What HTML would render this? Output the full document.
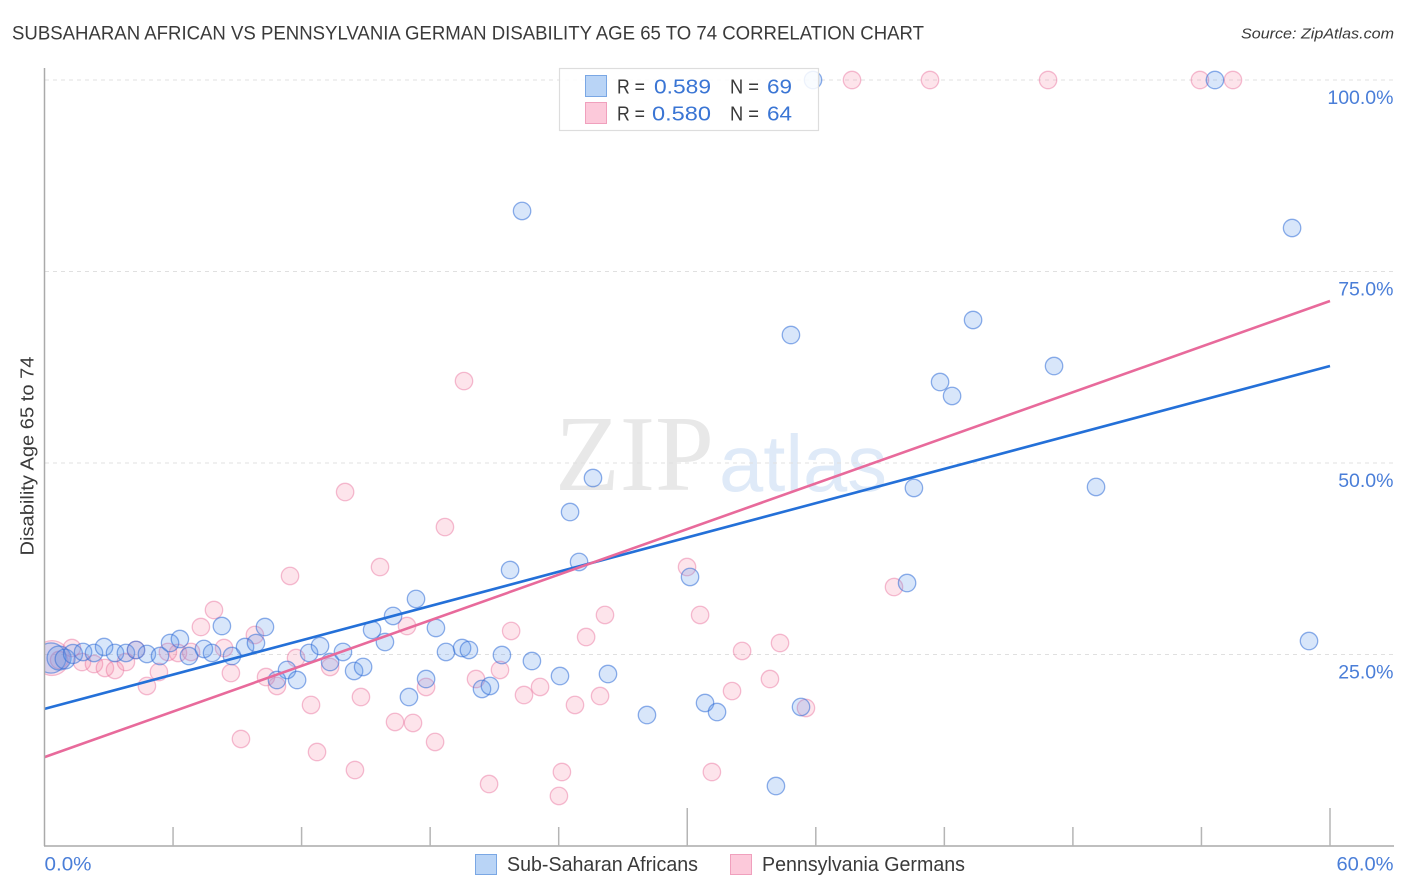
<!DOCTYPE html>
<html>
<head>
<meta charset="utf-8">
<style>
html,body{margin:0;padding:0;background:#fff;width:1406px;height:892px;overflow:hidden}
svg{display:block;font-family:"Liberation Sans",sans-serif}
</style>
</head>
<body>
<svg id="chart" width="1406" height="892" viewBox="0 0 1406 892" xmlns="http://www.w3.org/2000/svg">
  <defs><clipPath id="plot-clip"><rect x="45" y="60" width="1349" height="786"/></clipPath></defs>
  <text x="12" y="39.5" font-size="19" fill="#3a3a3a" textLength="912" lengthAdjust="spacingAndGlyphs">SUBSAHARAN AFRICAN VS PENNSYLVANIA GERMAN DISABILITY AGE 65 TO 74 CORRELATION CHART</text>
  <text x="1394" y="38.5" font-size="15" font-style="italic" fill="#3a3a3a" text-anchor="end" textLength="153" lengthAdjust="spacingAndGlyphs">Source: ZipAtlas.com</text>
  <g>
    <text x="555" y="490" font-family="'Liberation Serif',serif" font-size="108" fill="#e8e8e8" textLength="159" lengthAdjust="spacingAndGlyphs">ZIP</text>
    <text x="719" y="491" font-size="80" fill="#dfeaf8" textLength="168" lengthAdjust="spacingAndGlyphs">atlas</text>
  </g>
  <g id="grid"></g>
  <g id="pts-pink" clip-path="url(#plot-clip)"></g>
  <g id="pts-blue" clip-path="url(#plot-clip)"></g>
  <g id="trends"></g>
  <g id="axes">
    <line x1="44.5" y1="68" x2="44.5" y2="846" stroke="#aaa" stroke-width="1.5"/>
    <line x1="44" y1="846" x2="1394" y2="846" stroke="#aaa" stroke-width="1.5"/>
  </g>
  <g id="labels"></g>
  <text transform="translate(33.5,456) rotate(-90)" font-size="18.5" fill="#3a3a3a" text-anchor="middle" textLength="199" lengthAdjust="spacingAndGlyphs">Disability Age 65 to 74</text>

  <g>
    <rect x="559.5" y="68.5" width="259" height="62" fill="#fff" fill-opacity="0.85" stroke="#ddd" stroke-width="1.2"/>
    <rect x="585.5" y="75.5" width="21" height="21" fill="#b9d4f6" stroke="#7aa7e4" stroke-width="1"/>
    <rect x="585.5" y="102.5" width="21" height="21" fill="#fcc9da" stroke="#f0a0bd" stroke-width="1"/>
    <g font-size="20.5">
      <text x="617" y="93.5" fill="#3a3a3a" textLength="28" lengthAdjust="spacingAndGlyphs">R =</text>
      <text x="654" y="93.5" fill="#3a75d4" textLength="57" lengthAdjust="spacingAndGlyphs">0.589</text>
      <text x="730" y="93.5" fill="#3a3a3a" textLength="29" lengthAdjust="spacingAndGlyphs">N =</text>
      <text x="767" y="93.5" fill="#3a75d4" textLength="25" lengthAdjust="spacingAndGlyphs">69</text>
      <text x="617" y="120.5" fill="#3a3a3a" textLength="28" lengthAdjust="spacingAndGlyphs">R =</text>
      <text x="652" y="120.5" fill="#3a75d4" textLength="59" lengthAdjust="spacingAndGlyphs">0.580</text>
      <text x="730" y="120.5" fill="#3a3a3a" textLength="29" lengthAdjust="spacingAndGlyphs">N =</text>
      <text x="767" y="120.5" fill="#3a75d4" textLength="25" lengthAdjust="spacingAndGlyphs">64</text>
    </g>
  </g>

  <g>
    <rect x="475.5" y="854.5" width="21" height="20" fill="#b9d4f6" stroke="#7aa7e4" stroke-width="1"/>
    <text x="507" y="871" font-size="20" fill="#3a3a3a" textLength="191" lengthAdjust="spacingAndGlyphs">Sub-Saharan Africans</text>
    <rect x="730.5" y="854.5" width="21" height="20" fill="#fcc9da" stroke="#f0a0bd" stroke-width="1"/>
    <text x="762" y="871" font-size="20" fill="#3a3a3a" textLength="203" lengthAdjust="spacingAndGlyphs">Pennsylvania Germans</text>
  </g>
</svg>
<script>
var blueX=[0.30,0.68,0.96,1.33,1.80,2.31,2.78,3.29,3.80,4.27,4.78,5.39,5.86,6.32,6.74,7.44,7.82,8.28,8.75,9.36,9.87,10.29,11.32,10.85,11.79,12.35,12.86,13.33,13.93,14.45,14.87,15.29,15.89,16.27,17.34,17.01,17.81,18.27,18.74,19.49,19.81,20.42,20.79,21.35,22.75,24.06,26.30,21.73,24.53,24.95,25.60,22.29,28.12,30.83,31.39,35.31,34.14,30.13,34.84,35.87,40.58,40.26,41.80,42.36,43.34,47.12,49.08,54.63,58.23,59.02];
var blueY=[24.54,24.54,24.41,25.07,25.33,25.20,25.98,25.20,25.20,25.59,25.07,24.80,26.50,27.02,24.80,25.72,25.20,28.72,24.80,25.98,26.50,28.59,22.98,21.67,21.67,25.20,26.11,24.02,25.33,22.85,23.37,28.20,26.63,30.03,32.25,19.45,21.80,28.46,25.33,25.85,25.59,20.50,20.89,24.93,24.15,22.19,22.45,36.03,43.60,37.08,48.04,82.90,17.10,18.67,17.49,18.15,7.83,35.12,66.71,100,46.74,34.33,60.57,58.75,68.67,62.66,46.87,100,80.68,26.76];
var blueWeight=[3,1.9,1.3,1.2,1,1,1,1,1,1,1,1,1,1,1,1,1,1,1,1,1,1,1,1,1,1,1,1,1,1,1,1,1,1,1,1,1,1,1,1,1,1,1,1,1,1,1,1,1,1,1,1,1,1,1,1,1,1,1,1,1,1,1,1,1,1,1,1,1,1];
var pinkX=[0.35,0.68,1.28,1.75,2.31,2.82,3.29,3.80,4.27,4.78,5.34,5.76,6.23,6.84,7.30,7.91,8.38,8.70,9.17,9.82,10.34,10.85,11.74,12.44,12.72,13.33,14.77,14.49,11.46,15.66,16.36,16.92,17.20,17.81,18.23,21.78,21.26,20.14,22.38,23.13,24.76,25.93,25.28,26.16,30.60,32.09,32.56,33.86,34.33,35.54,20.75,24.15,24.01,31.15,19.58,14.03,18.69,29.99,39.65,37.69,41.33,46.84,53.93,55.47];
var pinkY=[24.54,24.28,25.85,24.02,23.76,23.24,22.98,24.02,25.59,20.89,22.72,25.33,25.20,25.33,28.59,30.81,25.85,22.58,13.97,27.55,22.06,20.89,24.54,18.41,12.27,23.37,19.45,9.92,35.25,36.42,16.19,28.72,16.06,20.76,13.58,28.07,22.98,21.80,19.71,20.76,18.41,19.58,27.28,30.16,30.16,20.23,25.46,21.80,26.50,18.02,8.09,9.66,6.53,9.66,60.70,46.21,41.64,36.42,33.81,100,100,100,100,100];
var pinkWeight=[4,1,1,1,1,1,1,1,1,1,1,1,1,1,1,1,1,1,1,1,1,1,1,1,1,1,1,1,1,1,1,1,1,1,1,1,1,1,1,1,1,1,1,1,1,1,1,1,1,1,1,1,1,1,1,1,1,1,1,1,1,1,1,1];
var blueTrendEnds=[17.9,62.66];
var pinkTrendEnds=[11.6,71.15];
var trendXDomain=[0,60];
var yTickValues=[25,50,75,100];
var yTickLabels=["25.0%","50.0%","75.0%","100.0%"];
var xTickValues=[6,12,18,24,30,36,42,48,54,60];
var xMajorTicks=[30,60];
var xEndValues=[0,60];
var xEndLabels=["0.0%","60.0%"];

var NS="http://www.w3.org/2000/svg";
function sx(v){return 44.5+v*1285.5/60;}
function sy(v){return 846-v*7.66;}
function radius(w){return 8.7*Math.sqrt(w);}
function make(tag,parent,attrs){
  var el=document.createElementNS(NS,tag);
  for(var k in attrs){el.setAttribute(k,attrs[k]);}
  document.getElementById(parent).appendChild(el);
  return el;
}
yTickValues.forEach(function(v,i){
  var line=make('line','grid',{x1:45,x2:1394,y1:sy(v),y2:sy(v),stroke:'#e0e0e0','stroke-width':1,'stroke-dasharray':'4 4'});
  
  
  var t=make('text','labels',{x:1393.5,y:sy(v)+24,'font-size':19.5,fill:'#4a7ed8','text-anchor':'end'});
  t.textContent=yTickLabels[i];
  
  
});
xTickValues.forEach(function(v){
  var top=xMajorTicks.indexOf(v)>=0?808:827;
  var tick=make('line','axes',{x1:sx(v),x2:sx(v),y1:top,y2:846,stroke:'#b5b5b5','stroke-width':1.5});
  
  
});
xEndValues.forEach(function(v,i){
  var t=make('text','labels',{x:i===0?sx(v):1393.5,y:870.5,'font-size':19.5,fill:'#4a7ed8','text-anchor':i===0?'start':'end',textLength:i===0?47:57,lengthAdjust:'spacingAndGlyphs'});
  t.textContent=xEndLabels[i];
  
  
});
pinkX.forEach(function(v,i){
  var c=make('circle','pts-pink',{cx:sx(v),cy:sy(pinkY[i]),r:radius(pinkWeight[i]),fill:'rgba(244,130,165,0.22)',stroke:'rgba(232,110,155,0.45)','stroke-width':1.3});
  
  
});
blueX.forEach(function(v,i){
  var c=make('circle','pts-blue',{cx:sx(v),cy:sy(blueY[i]),r:radius(blueWeight[i]),fill:'rgba(90,150,235,0.24)',stroke:'rgba(50,110,215,0.55)','stroke-width':1.3});
  
  
});
var trendBlue=make('line','trends',{x1:sx(trendXDomain[0]),y1:sy(blueTrendEnds[0]),x2:sx(trendXDomain[1]),y2:sy(blueTrendEnds[1]),stroke:'#2470d8','stroke-width':2.6});


var trendPink=make('line','trends',{x1:sx(trendXDomain[0]),y1:sy(pinkTrendEnds[0]),x2:sx(trendXDomain[1]),y2:sy(pinkTrendEnds[1]),stroke:'#e86a9b','stroke-width':2.6});


</script>
</body>
</html>
